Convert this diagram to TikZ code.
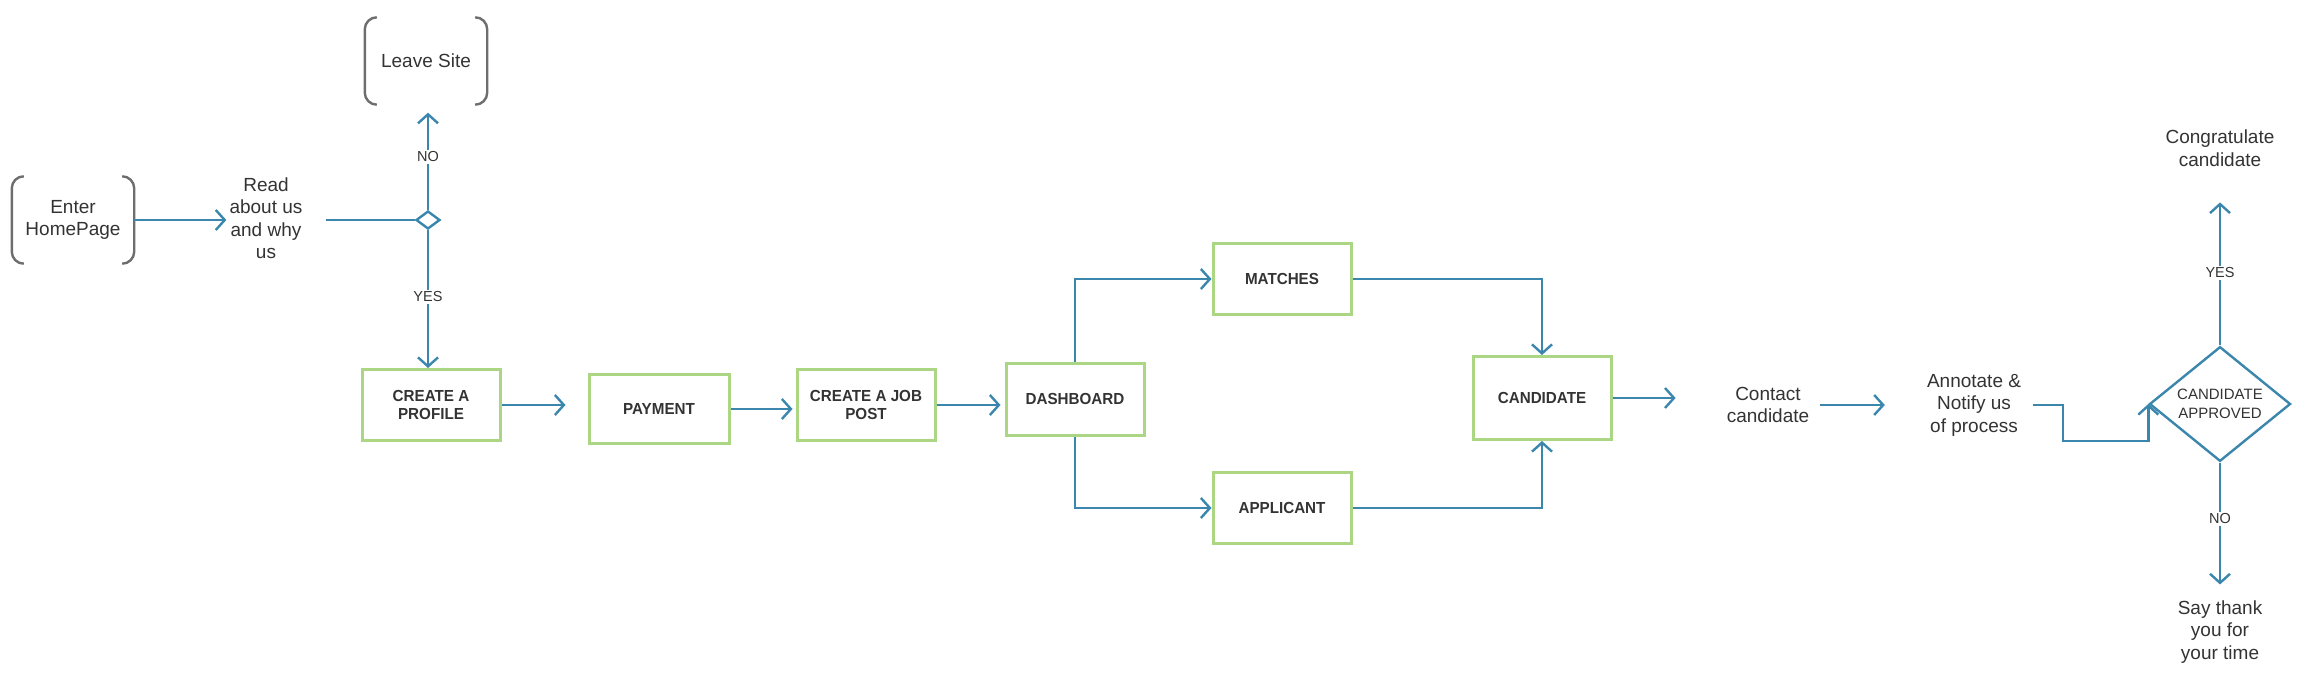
\documentclass[tikz,border=0pt]{standalone}
\usepackage{fontspec}
\setmainfont{Liberation Sans}
\newfontfamily\boxfont{Liberation Sans}[FakeStretch=0.95]
\usetikzlibrary{arrows.meta,shapes.geometric}
\definecolor{boxgreen}{HTML}{ABD784}
\definecolor{linkblue}{HTML}{3A86AD}
\definecolor{txt}{HTML}{333333}
\definecolor{brk}{HTML}{6E6E6E}
\begin{document}
\begin{tikzpicture}[x=1pt,y=1pt,
  every node/.style={text=txt},
  stepbox/.style={draw=boxgreen,line width=3pt,minimum width=138pt,minimum height=71pt,
    font=\boxfont\bfseries\fontsize{16}{18.7}\selectfont,align=center,inner sep=0pt},
  plain/.style={font=\fontsize{19}{22.5}\selectfont,align=center,inner sep=3pt},
  brbox/.style={plain,minimum width=122pt,minimum height=87pt},
  bracket/.style={draw=brk,line width=2.4pt,rounded corners=12pt},
  link/.style={draw=linkblue,line width=2.4pt},
  conn/.style={link,-{Straight Barb[length=9pt,width=20pt]}},
  lbl/.style={fill=white,font=\fontsize{14.5}{17}\selectfont,inner sep=2pt},
  smalldia/.style={link,diamond,fill=white,minimum width=24pt,minimum height=18pt,inner sep=0pt},
  bigdia/.style={link,diamond,fill=white,minimum width=141pt,minimum height=104pt,inner sep=0pt,
    font=\fontsize{15}{18.5}\selectfont,align=center}
]
\useasboundingbox (0,0) rectangle (2305,-677);

% nodes
\node[brbox] (eh) at (73,-220) {Enter\\HomePage};
\node[plain] (read) at (266,-218) {Read\\about us\\and why\\us};
\node[smalldia] (dec) at (428,-220) {};
\node[brbox] (leave) at (426,-61) {Leave Site};
\node[stepbox] (prof) at (431,-405) {CREATE A\\PROFILE};
\node[stepbox,minimum width=140pt,minimum height=69pt] (pay) at (659,-409) {PAYMENT};
\node[stepbox] (job) at (866,-405) {CREATE A JOB\\POST};
\node[stepbox,minimum height=72pt] (dash) at (1075,-399) {DASHBOARD};
\node[stepbox] (match) at (1282,-279) {MATCHES};
\node[stepbox] (appl) at (1282,-508) {APPLICANT};
\node[stepbox,minimum height=83pt] (cand) at (1542,-398) {CANDIDATE};
\node[plain] (contact) at (1768,-405) {Contact\\candidate};
\node[plain] (annot) at (1974,-405) {Annotate \&\\Notify us\\of process};
\node[bigdia] (appr) at (2220,-404) {CANDIDATE\\APPROVED};
\node[plain] (congrat) at (2220,-148) {Congratulate\\candidate};
\node[plain] (thanks) at (2220,-632) {Say thank\\you for\\your time};

% brackets
\draw[bracket] ([xshift=12pt]eh.north west) -- (eh.north west) -- (eh.south west) -- ([xshift=12pt]eh.south west);
\draw[bracket] ([xshift=-12pt]eh.north east) -- (eh.north east) -- (eh.south east) -- ([xshift=-12pt]eh.south east);
\draw[bracket] ([xshift=12pt]leave.north west) -- (leave.north west) -- (leave.south west) -- ([xshift=12pt]leave.south west);
\draw[bracket] ([xshift=-12pt]leave.north east) -- (leave.north east) -- (leave.south east) -- ([xshift=-12pt]leave.south east);

% connectors
\draw[conn] (eh.east) -- (eh.east -| read.west);
\draw[link] ([xshift=20pt]read.east |- dec.west) -- (dec.west);
\draw[conn,shorten >=8pt] (dec.north) -- (dec.north |- leave.south);
\draw[conn] (dec.south) -- (dec.south |- prof.north);
\draw[conn,shorten >=22pt] (prof.east) -- (prof.east -| pay.west);
\draw[conn,shorten >=3pt] (pay.east) -- (pay.east -| job.west);
\draw[conn,shorten >=4pt] (job.east) -- (job.east -| dash.west);
\draw[conn] (dash.north) |- (match.west);
\draw[conn] (dash.south) |- (appl.west);
\draw[conn] (match.east) -| (cand.north);
\draw[conn] (appl.east) -| (cand.south);
\draw[conn,shorten >=48pt] (cand.east) -- (cand.east -| contact.west);
\draw[conn,shorten <=8pt,shorten >=39pt] (contact.east) -- (contact.east -| annot.west);
\draw[conn] ([xshift=9pt]annot.east) -| ++(30,-36) -| (appr.west);
\draw[conn,shorten >=33pt] (appr.north) -- (appr.north |- congrat.south);
\draw[conn,shorten >=13pt] (appr.south) -- (appr.south |- thanks.north);

% labels
\node[lbl] (no1) at (428,-157) {NO};
\node[lbl] (yes1) at (428,-297) {YES};
\node[lbl] (yes2) at (2220,-273) {YES};
\node[lbl] (no2) at (2220,-519) {NO};
\end{tikzpicture}
\end{document}
